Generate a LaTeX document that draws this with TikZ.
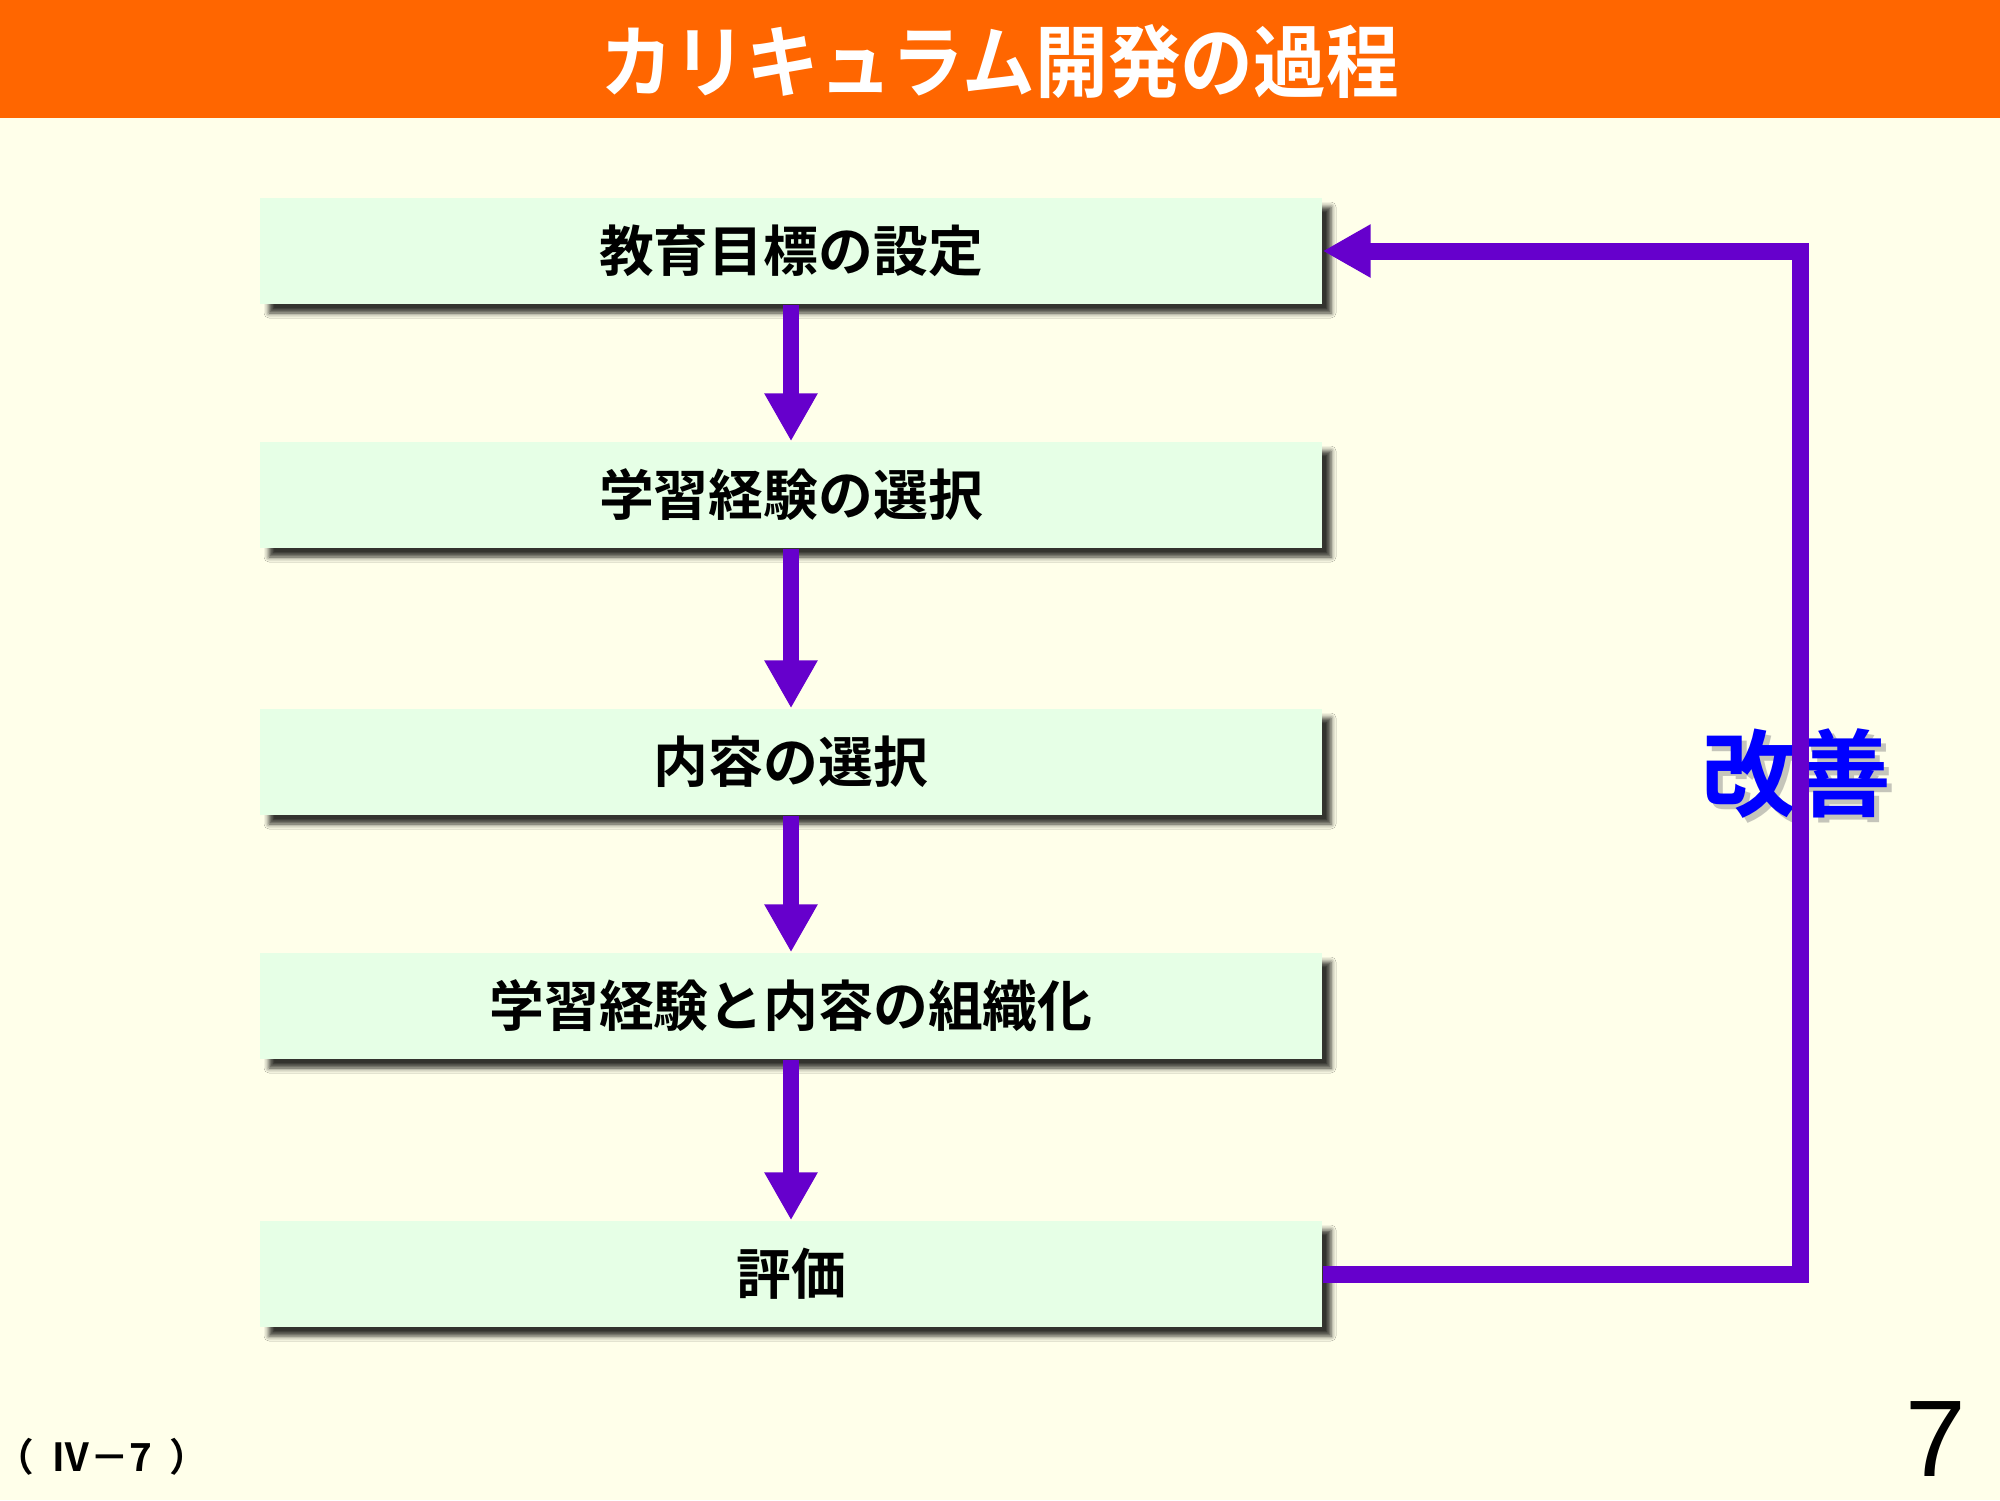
\documentclass[tikz,border=0pt]{standalone}
\usepackage{fontspec}
\newfontfamily\jpfont{Noto Sans CJK JP}[BoldFont={Noto Sans CJK JP Bold}]
\newfontfamily\titlefont{Noto Sans CJK JP Bold}[FakeStretch=0.92]
\newfontfamily\numfont{Liberation Sans}
\usetikzlibrary{positioning, arrows.meta, shadows.blur}

\definecolor{slidebg}{RGB}{255,255,234}
\definecolor{titlebar}{RGB}{255,102,0}
\definecolor{boxfill}{RGB}{230,255,230}
\definecolor{loopviolet}{RGB}{102,0,204}

\tikzstyle{box} = [rectangle, minimum width=10.62cm, minimum height=1.06cm, inner sep=0pt, text centered, fill=boxfill, blur shadow={shadow xshift=0.09cm, shadow yshift=-0.09cm, shadow blur radius=0.05cm, shadow opacity=80}, font=\jpfont\bfseries\fontsize{15.6}{18}\selectfont]
\tikzstyle{arrow} = [line width=0.16cm, draw=loopviolet, -{Triangle[width=0.5cm, length=0.48cm]}]
\tikzstyle{feedback} = [line width=0.17cm, draw=loopviolet, -{Triangle[width=0.5cm, length=0.48cm]}]

\begin{document}
\begin{tikzpicture}[node distance=2.44cm]

% Slide background and title bar
\useasboundingbox (0,0) rectangle (20,-15);
\fill [slidebg] (0,0) rectangle (20,-15);
\fill [titlebar] (0,0) rectangle (20,-1.18);
\node (title) [text=white, font=\titlefont\fontsize{22.5}{26}\selectfont] at (10,-0.62) {カリキュラム開発の過程};

% Process steps
\node (goal) [box] at (7.91,-2.51) {教育目標の設定};
\node (exp) [box, below of=goal] {学習経験の選択};
\node (content) [box, below of=exp, yshift=-0.23cm] {内容の選択};
\node (org) [box, below of=content] {学習経験と内容の組織化};
\node (eval) [box, below of=org, yshift=-0.24cm] {評価};

% Arrows between steps
\draw [arrow] (goal.south) -- (exp.north);
\draw [arrow] (exp.south) -- (content.north);
\draw [arrow] (content.south) -- (org.north);
\draw [arrow] (org.south) -- (eval.north);

% Improvement loop back to the top
\node (kaizenshadow) [text=black!45, opacity=0.5, font=\jpfont\bfseries\fontsize{27}{30}\selectfont] at (18.01,-7.79) {改善};
\node (kaizen) [text=blue, font=\jpfont\bfseries\fontsize{27}{30}\selectfont] at (17.96,-7.74) {改善};
\coordinate (turn) at (18.0,0);
\draw [feedback] (eval.east) -- (eval.east -| turn) |- (goal.east);

% Page labels
\node (ref) [font=\jpfont\bfseries\fontsize{11}{13}\selectfont] at (1.02,-14.57) {（\ \ Ⅳ－7\ \ ）};
\node (page) [font=\numfont\fontsize{31}{34}\selectfont] at (19.36,-14.39) {7};

\end{tikzpicture}
\end{document}
